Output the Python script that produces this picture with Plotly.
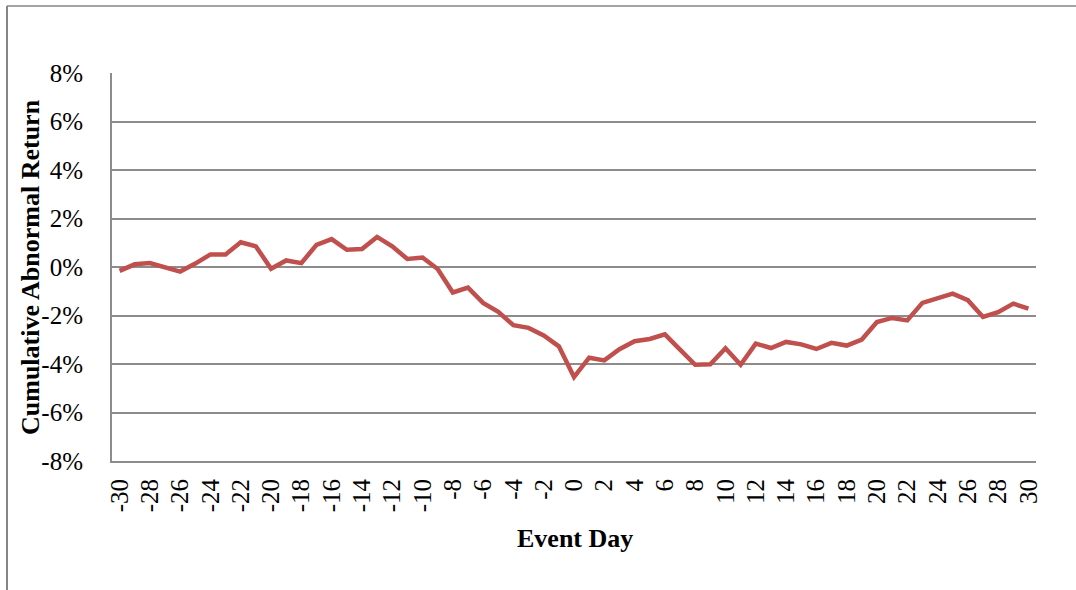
import plotly.graph_objects as go

event_days = list(range(-30, 31))
car_pct = [
    -0.16, 0.11, 0.16, -0.03, -0.19, 0.14, 0.52, 0.52, 1.02, 0.85,
    -0.07, 0.27, 0.16, 0.91, 1.15, 0.71, 0.74, 1.24, 0.85, 0.33,
    0.39, -0.08, -1.05, -0.85, -1.48, -1.85, -2.40, -2.51, -2.82, -3.27,
    -4.54, -3.74, -3.85, -3.39, -3.06, -2.97, -2.78, -3.41, -4.03, -4.01,
    -3.35, -4.03, -3.16, -3.34, -3.09, -3.19, -3.38, -3.13, -3.24, -2.99,
    -2.27, -2.10, -2.20, -1.48, -1.28, -1.10, -1.37, -2.06, -1.86, -1.51,
    -1.72,
]
x_tick_vals = list(range(-30, 31, 2))
y_tick_vals = [-8, -6, -4, -2, 0, 2, 4, 6, 8]
y_tick_text = [f"{v}%" for v in y_tick_vals]

FONT = "Liberation Serif"
GRID = "#8c8c8c"

fig = go.Figure()
fig.add_trace(go.Scatter(
    x=event_days, y=car_pct, mode="lines",
    line=dict(color="#C0504D", width=4.5),
    hoverinfo="skip", showlegend=False,
))

fig.update_layout(
    width=1076, height=590,
    margin=dict(l=112, r=40, t=73, b=129),
    paper_bgcolor="white", plot_bgcolor="white",
    font=dict(family=FONT, size=25, color="black"),
    xaxis=dict(
        range=[-30.5, 30.5], tickvals=x_tick_vals,
        ticktext=[str(v) for v in x_tick_vals],
        tickangle=-90, showgrid=False, zeroline=False,
        showline=True, linecolor=GRID, linewidth=2,
        ticks="", ticklabelstandoff=6,
        tickfont=dict(family=FONT, size=25),
    ),
    yaxis=dict(
        range=[-8, 8], tickvals=y_tick_vals, ticktext=y_tick_text,
        showgrid=True, gridcolor=GRID, gridwidth=1.5,
        zeroline=False, showline=True, linecolor=GRID, linewidth=2,
        ticks="", ticklabelstandoff=22,
        tickfont=dict(family=FONT, size=25),
    ),
    annotations=[
        dict(text="<b>Cumulative Abnormal Return</b>", textangle=-90,
             xref="paper", yref="paper", x=(30 - 112) / 924, y=0.5,
             xanchor="center", yanchor="middle", showarrow=False,
             font=dict(family=FONT, size=26)),
        dict(text="<b>Event Day</b>",
             xref="paper", yref="paper", x=(575 - 112) / 924, y=(461 - 538) / 388,
             xanchor="center", yanchor="middle", showarrow=False,
             font=dict(family=FONT, size=26)),
    ],
    shapes=[
        dict(type="line", xref="paper", yref="paper",
             x0=(7 - 112) / 924, x1=(1080 - 112) / 924,
             y0=(461 - 6) / 388, y1=(461 - 6) / 388,
             line=dict(color="#868686", width=1.5)),
        dict(type="line", xref="paper", yref="paper",
             x0=(7 - 112) / 924, x1=(7 - 112) / 924,
             y0=(461 - 6) / 388, y1=(461 - 600) / 388,
             line=dict(color="#868686", width=2)),
    ],
)

fig.write_html("out.html")
